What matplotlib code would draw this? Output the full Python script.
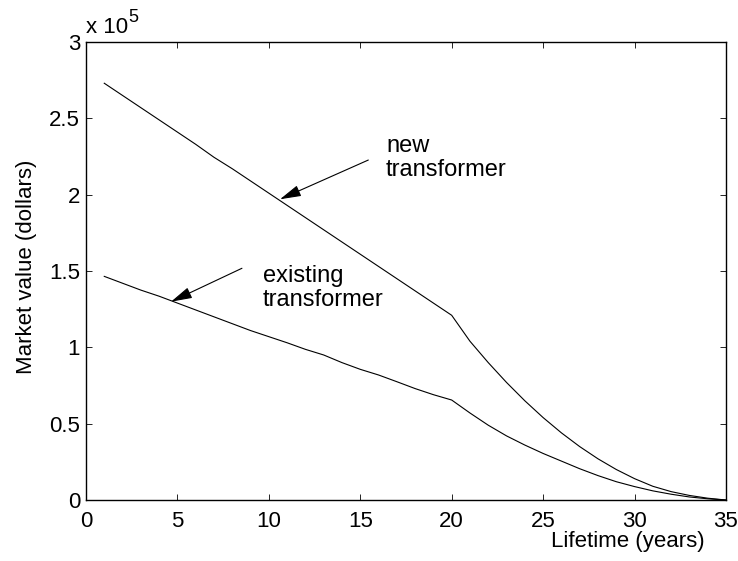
import numpy as np
import matplotlib
matplotlib.use("Agg")
import matplotlib.pyplot as plt
from matplotlib.ticker import FuncFormatter, MultipleLocator

plt.rcParams['font.family'] = ['Liberation Sans', 'DejaVu Sans']
plt.rcParams['font.size'] = 16

# market value per year of service, dollars
years = np.arange(1, 36)
new_value = [273000, 265000, 257000, 249000, 241000, 233000, 224500, 217000,
             209000, 201000, 193000, 185000, 177000, 169000, 161000, 153000,
             145000, 137000, 129000, 121000, 104000, 90000, 77000, 65000,
             54000, 44000, 35000, 27000, 20000, 14000, 9000, 5500, 3000,
             1200, 0]
existing_value = [146500, 142000, 137500, 133500, 129000, 124500, 120000,
                  115500, 111000, 107000, 103000, 98700, 95000, 90000, 85600,
                  81900, 77500, 73000, 69000, 65500, 57000, 49000, 42000,
                  36000, 30500, 25500, 20500, 16000, 12000, 8800, 6000, 3800,
                  2000, 800, 0]

xticks = [0, 5, 10, 15, 20, 25, 30, 35]

fig = plt.figure(figsize=(7.38, 5.61), dpi=100)
ax = fig.add_axes([0.1165, 0.1087, 0.8672, 0.8164])

ax.plot(years, new_value, color='k', lw=0.8)
ax.plot(years, existing_value, color='k', lw=0.8)

ax.set_xlim(0, 35)
ax.set_ylim(0, 300000)
ax.set_xticks(xticks)
ax.yaxis.set_major_locator(MultipleLocator(50000))
ax.yaxis.set_major_formatter(FuncFormatter(lambda v, pos: f"{v / 1e5:g}"))

ax.tick_params(direction='in', top=True, right=True, length=4.5, width=0.6)
ax.tick_params(axis='x', pad=8)
ax.tick_params(axis='y', pad=4.3)
for sp in ax.spines.values():
    sp.set_linewidth(1.0)

# scale factor shown above the y axis
ax.text(0.0, 1.0197, 'x 10', transform=ax.transAxes, ha='left',
        va='baseline', fontsize=16)
ax.text(0.0656, 1.0437, '5', transform=ax.transAxes, ha='left',
        va='baseline', fontsize=13)

ax.set_xlabel('Lifetime (years)')
ax.xaxis.set_label_coords(0.847, -0.068)
ax.set_ylabel('Market value (dollars)')
ax.yaxis.set_label_coords(-0.0758, 0.51)

arrow = dict(arrowstyle='-|>,head_length=1.3,head_width=0.35', color='k',
             lw=0.8, shrinkA=0, shrinkB=0, mutation_scale=10)
ax.annotate('', xy=(10.61, 197000), xytext=(15.44, 222700), arrowprops=arrow)
ax.annotate('', xy=(4.65, 129900), xytext=(8.53, 151800), arrowprops=arrow)

ax.text(16.41, 238800, 'new\ntransformer', ha='left', va='top',
        fontsize=17, linespacing=1.1)
ax.text(9.68, 153800, 'existing\ntransformer', ha='left', va='top',
        fontsize=17, linespacing=1.1)

fig.savefig('out.png', dpi=100)
